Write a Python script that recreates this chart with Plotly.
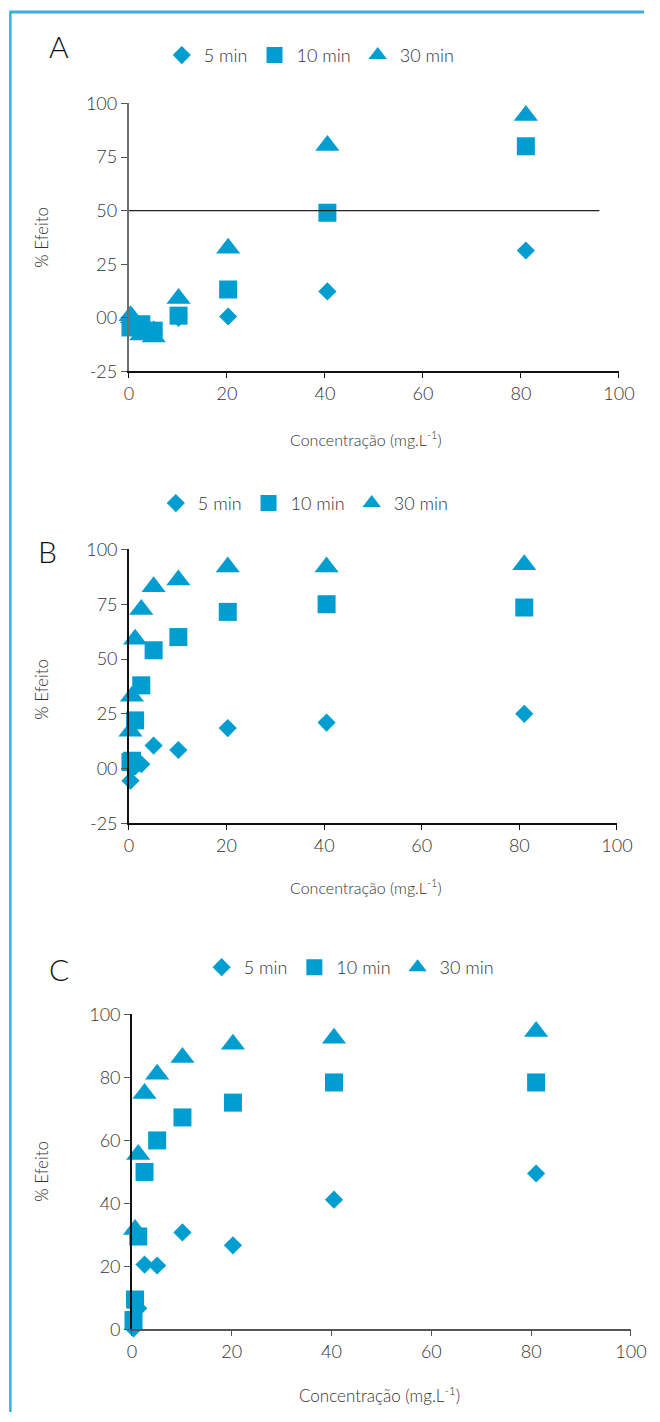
import plotly.graph_objects as go

# ---------------- data ----------------
conc = [0.32, 0.63, 1.27, 2.53, 5.06, 10.13, 20.25, 40.5, 81]

# Panel A
a_5min = [-3, -4, -5, -6, -5.5, 0, 0.6, 12.3, 31.4]
a_10min = [-4.5, -4, -3.5, -3, -6, 1, 13.2, 49, 80]
a_30min = [1, 0, -2, -8, -9, 9, 32.4, 80.4, 94.4]
a_ref_x = [0, 96]
a_ref_y = [50, 50]

# Panel B
b_5min = [-5.5, 0.5, 1, 2, 10.5, 8.5, 18.5, 21, 25]
b_10min = [3, 3.6, 22, 38, 54, 60, 71.5, 75, 73.5]
b_30min = [17, 33, 59, 72.6, 83, 86, 92, 92, 93]

# Panel C
c_5min_x = [0.32, 1.27, 2.53, 5.06, 10.13, 20.25, 40.5, 81]
c_5min = [0.3, 6.7, 20.6, 20.3, 30.8, 26.7, 41.2, 49.5]
c_10min = [3, 9.5, 29.5, 50, 60, 67.3, 72, 78.4, 78.4]
c_30min_x = [0.63, 1.27, 2.53, 5.06, 10.13, 20.25, 40.5, 81]
c_30min = [31.7, 55.5, 74.9, 81, 86.3, 90.5, 92.4, 94.6]

series_names = ["5 min", "10 min", "30 min"]
x_ticks = [0, 20, 40, 60, 80, 100]
ab_y_ticks = [-25, 0, 25, 50, 75, 100]
ab_y_labels = ["-25", "00", "25", "50", "75", "100"]
c_y_ticks = [0, 20, 40, 60, 80, 100]
c_y_labels = ["0", "20", "40", "60", "80", "100"]

# ---------------- style ----------------
W, H = 660, 1422
BLUE = "#009DD1"
FONT = "Lato"
TXT = "#333333"

# empirical correction for how the page ends up in the photo
SX, BX = 0.972, 3.6
SY, BY = 0.9845, 10.6


def px_x(q):
    return ((q - BX) / SX) / W


def px_y(q):
    return 1 - ((q - BY) / SY) / H


symbols = ["diamond", "square", "triangle-up"]
sizes = [14, 18, 21]

fig = go.Figure()

panels = [
    dict(ax="", leg="legend", xs=[conc, conc, conc], ys=[a_5min, a_10min, a_30min]),
    dict(ax="2", leg="legend2", xs=[conc, conc, conc], ys=[b_5min, b_10min, b_30min]),
    dict(ax="3", leg="legend3", xs=[c_5min_x, conc, c_30min_x], ys=[c_5min, c_10min, c_30min]),
]

for p in panels:
    for i in range(3):
        fig.add_trace(go.Scatter(
            x=p["xs"][i], y=p["ys"][i], mode="markers", name=series_names[i],
            marker=dict(symbol=symbols[i], size=sizes[i], color=BLUE, line=dict(width=0)),
            xaxis="x" + p["ax"], yaxis="y" + p["ax"], legend=p["leg"], cliponaxis=False,
        ))

fig.add_trace(go.Scatter(x=a_ref_x, y=a_ref_y, mode="lines", line=dict(color="#222222", width=1.2),
                         showlegend=False, xaxis="x", yaxis="y", hoverinfo="skip"))

# domains in (photo) pixels
dom = {
    "": dict(x=(128, 620), y=(102, 370)),
    "2": dict(x=(128, 618), y=(548, 822)),
    "3": dict(x=(131, 632), y=(1013, 1328)),
}
tickfont = dict(family=FONT, size=18, color=TXT, weight=300)

layout = dict(
    width=W, height=H, margin=dict(l=0, r=0, t=0, b=0),
    paper_bgcolor="white", plot_bgcolor="white",
    font=dict(family=FONT, color=TXT, weight=300),
    showlegend=True,
)

for key, d in dom.items():
    yr = [0, 100] if key == "3" else [-25, 100]
    yt = c_y_ticks if key == "3" else ab_y_ticks
    yl = c_y_labels if key == "3" else ab_y_labels
    ylinecol = "#6f6f6f" if key == "" else "#111111"
    xlinecol = "#555555" if key == "3" else "#111111"
    layout["xaxis" + key] = dict(
        domain=[px_x(d["x"][0]), px_x(d["x"][1])], range=[0, 100],
        anchor="y" + key, showgrid=False, zeroline=False,
        showline=True, linecolor=xlinecol, linewidth=1.5,
        ticks="outside", ticklen=5, tickcolor=xlinecol,
        tickvals=x_ticks, ticktext=[str(v) for v in x_ticks], tickfont=tickfont,
    )
    layout["yaxis" + key] = dict(
        domain=[px_y(d["y"][1]), px_y(d["y"][0])], range=yr,
        anchor="x" + key, showgrid=False, zeroline=False,
        showline=True, linecolor=ylinecol, linewidth=2.2 if key == "" else 1.5,
        ticks="outside", ticklen=6, tickcolor="#555555",
        tickvals=yt, ticktext=yl, tickfont=tickfont,
    )

leg_common = dict(orientation="h", xanchor="left", yanchor="middle", bgcolor="rgba(0,0,0,0)",
                  font=dict(family=FONT, size=18, color=TXT, weight=300), itemsizing="trace",
                  tracegroupgap=0, itemclick=False, itemwidth=34)
layout["legend"] = dict(leg_common, x=px_x(159), y=px_y(54))
layout["legend2"] = dict(leg_common, x=px_x(153), y=px_y(502))
layout["legend3"] = dict(leg_common, x=px_x(199), y=px_y(966))

fig.update_layout(**layout)

# panel letters & axis titles
ann = [
    dict(text="A", x=px_x(58), y=px_y(45)),
    dict(text="B", x=px_x(46), y=px_y(550)),
    dict(text="C", x=px_x(58), y=px_y(968)),
]
for a in ann:
    fig.add_annotation(text=a["text"], x=a["x"], y=a["y"], xref="paper", yref="paper",
                       xanchor="center", yanchor="middle",
                       showarrow=False, font=dict(family=FONT, size=30, color="#111111", weight=300))

for cy in [236, 688, 1170]:
    fig.add_annotation(text="% Efeito", x=px_x(40), y=px_y(cy), xref="paper", yref="paper",
                       xanchor="center", yanchor="middle",
                       showarrow=False, textangle=-90,
                       font=dict(family=FONT, size=17, color=TXT, weight=300))
for cx, cy, sz in [(366, 437, 16), (366, 885, 16), (380, 1393, 17)]:
    fig.add_annotation(text="Concentração (mg.L<sup>-1</sup>)", x=px_x(cx), y=px_y(cy),
                       xref="paper", yref="paper", showarrow=False,
                       xanchor="center", yanchor="middle",
                       font=dict(family=FONT, size=sz, color=TXT, weight=300))

# frame lines (top and left)
fig.add_shape(type="line", xref="paper", yref="paper", x0=px_x(8), x1=1, y0=1, y1=1,
              line=dict(color="#3AAEDD", width=3))
fig.add_shape(type="line", xref="paper", yref="paper", x0=px_x(9), x1=px_x(9), y0=1, y1=0,
              line=dict(color="#3AAEDD", width=2.5))

fig.write_html(
    "out.html",
    config={"displayModeBar": False},
    post_script="document.body.style.margin='0';document.body.style.overflow='hidden';"
                "document.documentElement.style.overflow='hidden';",
)
